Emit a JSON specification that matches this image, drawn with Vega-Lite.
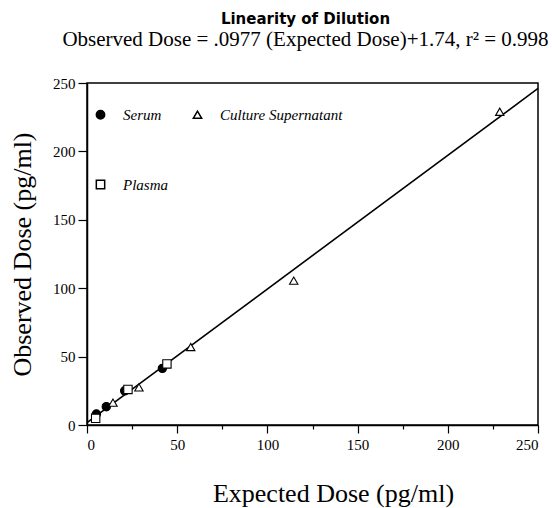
{
  "$schema": "https://vega.github.io/schema/vega-lite/v6.json",
  "autosize": "none",
  "width": 451,
  "height": 342,
  "padding": {"left": 87, "top": 83, "right": 14, "bottom": 83},
  "background": "white",
  "title": {
    "text": "Linearity of Dilution",
    "subtitle": "Observed Dose = .0977 (Expected Dose)+1.74, r² = 0.998",
    "anchor": "middle",
    "frame": "group",
    "font": "DejaVu Sans",
    "fontWeight": "bold",
    "fontSize": 15,
    "color": "black",
    "subtitleFont": "Liberation Serif",
    "subtitleFontSize": 21,
    "subtitleColor": "black",
    "subtitlePadding": 2,
    "offset": 26,
    "dx": -7
  },
  "config": {
    "view": {"stroke": "black", "strokeWidth": 1.5},
    "axis": {
      "domainColor": "black",
      "domainWidth": 1.5,
      "tickColor": "black",
      "tickWidth": 1.2,
      "grid": false,
      "labelFont": "Liberation Serif",
      "labelFontSize": 15,
      "labelColor": "black",
      "titleFont": "Liberation Serif",
      "titleFontSize": 26,
      "titleFontWeight": "normal",
      "titleColor": "black"
    }
  },
  "layer": [
    {
      "data": {"values": [{"expected": 0, "observed": 1.74}, {"expected": 250, "observed": 246}]},
      "mark": {"type": "line", "color": "black", "strokeWidth": 1.6},
      "encoding": {
        "x": {"field": "expected", "type": "quantitative"},
        "y": {"field": "observed", "type": "quantitative"}
      }
    },
    {
      "data": {"values": [
        {"sample": "Serum", "expected": 5.2, "observed": 8},
        {"sample": "Serum", "expected": 10.7, "observed": 13.4},
        {"sample": "Serum", "expected": 20.9, "observed": 25},
        {"sample": "Serum", "expected": 41.8, "observed": 41.4},
        {"sample": "Plasma", "expected": 4.8, "observed": 4.9},
        {"sample": "Plasma", "expected": 22.7, "observed": 26},
        {"sample": "Plasma", "expected": 44.3, "observed": 44.6},
        {"sample": "Culture Supernatant", "expected": 14.4, "observed": 16.3},
        {"sample": "Culture Supernatant", "expected": 28.8, "observed": 27.5},
        {"sample": "Culture Supernatant", "expected": 57.5, "observed": 57},
        {"sample": "Culture Supernatant", "expected": 114.6, "observed": 105.5},
        {"sample": "Culture Supernatant", "expected": 228.8, "observed": 229}
      ]},
      "mark": {"type": "point", "filled": true, "size": 70, "stroke": "black", "strokeWidth": 1.1, "opacity": 1},
      "encoding": {
        "x": {
          "field": "expected", "type": "quantitative",
          "title": "Expected Dose (pg/ml)",
          "scale": {"domain": [0, 250], "nice": false, "zero": false},
          "axis": {
            "values": [0, 25, 50, 75, 100, 125, 150, 175, 200, 225, 250],
            "labelExpr": "datum.value % 50 === 0 ? datum.label : ''",
            "tickSize": {"condition": {"test": "datum.value % 50 === 0", "value": 8}, "value": 4},
            "labelPadding": 4,
            "titlePadding": 28,
            "titleX": 246
          }
        },
        "y": {
          "field": "observed", "type": "quantitative",
          "title": "Observed Dose (pg/ml)",
          "scale": {"domain": [0, 250], "nice": false, "zero": false},
          "axis": {
            "values": [0, 25, 50, 75, 100, 125, 150, 175, 200, 225, 250],
            "labelExpr": "datum.value % 50 === 0 ? datum.label : ''",
            "tickSize": {"condition": {"test": "datum.value % 50 === 0", "value": 9}, "value": 4},
            "labelPadding": 3,
            "titlePadding": 17
          }
        },
        "shape": {
          "field": "sample", "type": "nominal",
          "scale": {"domain": ["Serum", "Culture Supernatant", "Plasma"], "range": ["circle", "triangle-up", "square"]},
          "legend": {
            "title": null,
            "orient": "none",
            "legendX": 6,
            "legendY": 24,
            "direction": "horizontal",
            "columns": 2,
            "columnPadding": 22,
            "rowPadding": 54,
            "labelFont": "Liberation Serif",
            "labelFontStyle": "italic",
            "labelFontSize": 15,
            "labelColor": "black",
            "labelOffset": 15,
            "symbolSize": 70
          }
        },
        "fill": {
          "field": "sample", "type": "nominal",
          "scale": {"domain": ["Serum", "Culture Supernatant", "Plasma"], "range": ["black", "white", "white"]},
          "legend": null
        }
      }
    }
  ]
}
